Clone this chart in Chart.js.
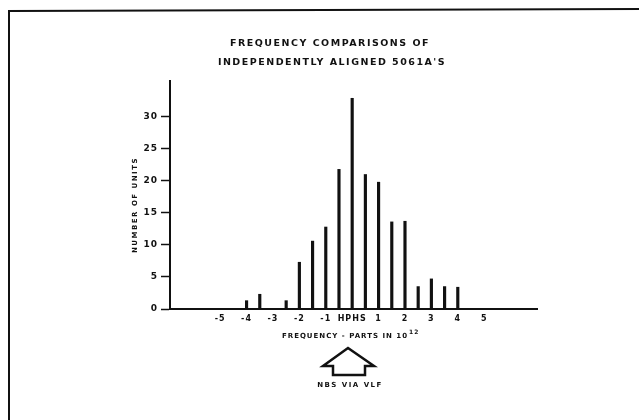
<!DOCTYPE html>
<html>
<head>
<meta charset="utf-8">
<script src="https://cdn.jsdelivr.net/npm/chart.js@4.4.1/dist/chart.umd.min.js"></script>
<style>
    html, body { margin: 0; padding: 0; background: #fff; }
    #wrap { width: 639px; height: 420px; }
</style>
</head>
<body>
<div id="wrap"><canvas id="freqChart" width="639" height="420"></canvas></div>
<script>
// chart data
const freqOffsets = [-4, -3.5, -2.5, -2, -1.5, -1, -0.5, 0, 0.5, 1, 1.5, 2, 2.5, 3, 3.5, 4];
const unitCounts = [1.3, 2.3, 1.3, 7.3, 10.6, 12.8, 21.8, 32.9, 21.0, 19.8, 13.6, 13.7, 3.5, 4.7, 3.5, 3.4];

const xTickValues = [-5, -4, -3, -2, -1, 0, 1, 2, 3, 4, 5];
const xTickLabels = ["-5", "-4", "-3", "-2", "-1", "HPHS", "1", "2", "3", "4", "5"];
const yTickValues = [0, 5, 10, 15, 20, 25, 30];

const titleLines = ["FREQUENCY COMPARISONS OF", "INDEPENDENTLY ALIGNED 5061A'S"];
const yTitle = "NUMBER OF UNITS";
const xTitle = "FREQUENCY - PARTS IN 10";
const xTitleSup = "12";
const arrowNote = "NBS VIA VLF";

const INK = "#111";
const FONT = "'DejaVu Sans', sans-serif";

Chart.defaults.color = INK;
Chart.defaults.font.family = FONT;

/* ---------------- extra drawing: frame, titles, arrow ---------------- */

const scanExtras = {
    id: "scanExtras",
    beforeDraw(chart) {
        chart.ctx.letterSpacing = "1px";
    },
    afterDraw(chart) {
        const ctx = chart.ctx;
        ctx.save();
        ctx.fillStyle = INK;
        ctx.strokeStyle = INK;

        // page frame (top and left edge of the scan)
        ctx.lineWidth = 2;
        ctx.beginPath();
        ctx.moveTo(9, 420);
        ctx.lineTo(9, 11);
        ctx.lineTo(639, 9);
        ctx.stroke();

        // title
        ctx.font = "bold 9.5px " + FONT;
        ctx.letterSpacing = "1.5px";
        ctx.textAlign = "center";
        ctx.textBaseline = "middle";
        ctx.fillText(titleLines[0], 330, 44);
        ctx.fillText(titleLines[1], 332, 63);

        // y axis title
        ctx.save();
        ctx.translate(135, 205);
        ctx.rotate(-Math.PI / 2);
        ctx.font = "bold 7px " + FONT;
        ctx.letterSpacing = "1.5px";
        ctx.fillText(yTitle, 0, 0);
        ctx.restore();

        // x axis title with superscript
        ctx.font = "bold 7px " + FONT;
        ctx.letterSpacing = "1px";
        ctx.textAlign = "left";
        const w = ctx.measureText(xTitle).width;
        const x0 = 345 - w / 2;
        ctx.fillText(xTitle, x0, 336);
        ctx.font = "bold 6px " + FONT;
        ctx.fillText(xTitleSup, x0 + w + 1, 332);

        // hollow arrow pointing up
        ctx.lineWidth = 2.5;
        ctx.lineJoin = "miter";
        ctx.beginPath();
        ctx.moveTo(348, 348);
        ctx.lineTo(374, 366);
        ctx.lineTo(365, 366);
        ctx.lineTo(365, 375);
        ctx.lineTo(333, 375);
        ctx.lineTo(333, 366);
        ctx.lineTo(323, 366);
        ctx.closePath();
        ctx.stroke();

        ctx.font = "bold 7px " + FONT;
        ctx.letterSpacing = "1.5px";
        ctx.textAlign = "center";
        ctx.fillText(arrowNote, 350, 385);

        ctx.restore();
    }
};

/* ---------------- chart ---------------- */

new Chart(document.getElementById("freqChart"), {
    type: "bar",
    data: {
        datasets: [{
            data: freqOffsets.map((f, i) => ({ x: f, y: unitCounts[i] })),
            backgroundColor: INK,
            borderWidth: 0,
            barThickness: 2.5
        }]
    },
    options: {
        responsive: false,
        animation: false,
        devicePixelRatio: 1,
        layout: { padding: { left: 0, right: 102, top: 81, bottom: 0 } },
        plugins: {
            legend: { display: false },
            tooltip: { enabled: false },
            title: { display: false }
        },
        scales: {
            x: {
                type: "linear",
                offset: false,
                min: -6.9,
                max: 7.0,
                afterFit: (scale) => { scale.height = 111; },
                afterBuildTicks: (scale) => {
                    scale.ticks = xTickValues.map(v => ({ value: v }));
                },
                grid: { display: false, drawTicks: false, offset: false },
                border: { display: true, color: INK, width: 2 },
                ticks: {
                    autoSkip: false,
                    maxRotation: 0,
                    padding: 5,
                    font: { size: 8, weight: "bold" },
                    callback: (v, i) => xTickLabels[i]
                }
            },
            y: {
                min: 0,
                max: 35.6,
                afterFit: (scale) => { scale.width = 170; },
                afterBuildTicks: (scale) => {
                    scale.ticks = yTickValues.map(v => ({ value: v }));
                },
                grid: {
                    drawOnChartArea: false,
                    drawTicks: true,
                    tickLength: 9,
                    tickColor: INK,
                    tickWidth: 1.5
                },
                border: { display: true, color: INK, width: 2 },
                ticks: {
                    padding: 3,
                    font: { size: 9, weight: "bold" }
                }
            }
        }
    },
    plugins: [scanExtras]
});
</script>
</body>
</html>
